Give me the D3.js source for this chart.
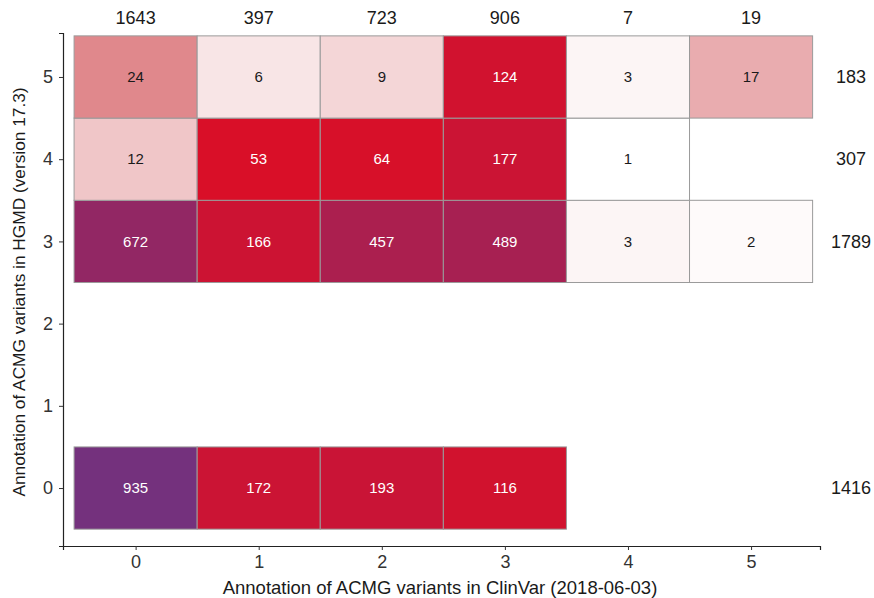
<!DOCTYPE html>
<html><head><meta charset="utf-8">
<script src="https://cdn.jsdelivr.net/npm/d3@7"></script>
<style>body{margin:0;background:#fff}svg{font-family:"Liberation Sans",Arial,sans-serif}</style>
</head><body>
<svg id="c" width="874" height="598"></svg>
<script>
// Data
const xCats = [0, 1, 2, 3, 4, 5];           // ClinVar annotation
const yCats = [0, 1, 2, 3, 4, 5];           // HGMD annotation
const row5 = [24, 6, 9, 124, 3, 17];
const row4 = [12, 53, 64, 177, 1, null];
const row3 = [672, 166, 457, 489, 3, 2];
const row0 = [935, 172, 193, 116, null, null];
const rowsByY = {5: row5, 4: row4, 3: row3, 0: row0};
const colTotals = [1643, 397, 723, 906, 7, 19];
const rowTotalY = [5, 4, 3, 0];
const rowTotals = [183, 307, 1789, 1416];
const xTitle = "Annotation of ACMG variants in ClinVar (2018-06-03)";
const yTitle = "Annotation of ACMG variants in HGMD (version 17.3)";

const cells = [];
Object.keys(rowsByY).forEach(y => rowsByY[y].forEach((v, i) => {
  if (v !== null) cells.push({x: xCats[i], y: +y, v});
}));

const svg = d3.select("#c");
const x = d3.scaleLinear().domain([-0.59, 5.56]).range([63, 820]);
const y = d3.scaleLinear().domain([-0.705, 5.535]).range([546, 33]);
const color = d3.scaleLinear().domain([1, 24, 50, 935])
  .range(["#ffffff", "#e0888c", "#d90f28", "#74317d"]).clamp(true);

const w = x(0.5) - x(-0.5), h = y(-0.5) - y(0.5);

svg.append("g").selectAll("rect").data(cells).join("rect")
  .attr("x", d => x(d.x - 0.5)).attr("y", d => y(d.y + 0.5))
  .attr("width", w).attr("height", h)
  .attr("fill", d => color(d.v)).attr("stroke", "#9a9a9a").attr("stroke-width", 1);

svg.append("g").selectAll("text").data(cells).join("text")
  .attr("x", d => x(d.x)).attr("y", d => y(d.y)).attr("dy", "0.35em")
  .attr("text-anchor", "middle").attr("font-size", 15)
  .attr("fill", d => d.v >= 50 ? "#ffffff" : "#1a1a1a").text(d => d.v);

// totals
svg.append("g").selectAll("text").data(colTotals).join("text")
  .attr("x", (d, i) => x(xCats[i])).attr("y", 18).attr("dy", "0.35em")
  .attr("text-anchor", "middle").attr("font-size", 18).attr("fill", "#1a1a1a").text(d => d);
svg.append("g").selectAll("text").data(rowTotals).join("text")
  .attr("x", 851).attr("y", (d, i) => y(rowTotalY[i])).attr("dy", "0.35em")
  .attr("text-anchor", "middle").attr("font-size", 18).attr("fill", "#1a1a1a").text(d => d);

// axes
const xAxis = svg.append("g").attr("transform", "translate(0,546)")
  .call(d3.axisBottom(x).tickValues(xCats).tickFormat(d3.format("d")).tickSizeOuter(0).tickSize(4).tickPadding(5));
const yAxis = svg.append("g").attr("transform", "translate(63,0)")
  .call(d3.axisLeft(y).tickValues(yCats).tickFormat(d3.format("d")).tickSizeOuter(0).tickSize(4).tickPadding(6));
[xAxis, yAxis].forEach(a => {
  a.select(".domain").attr("stroke", "#222").attr("stroke-width", 1.2);
  a.selectAll(".tick line").attr("stroke", "#333");
  a.selectAll(".tick text").attr("font-size", 18).attr("fill", "#333").attr("font-family", "Liberation Sans, Arial, sans-serif");
});

svg.append("text").attr("x", 440).attr("y", 588).attr("dy", "0.35em")
  .attr("text-anchor", "middle").attr("font-size", 18.5).attr("fill", "#1a1a1a").text(xTitle);
svg.append("text").attr("transform", "translate(19,292) rotate(-90)").attr("dy", "0.35em")
  .attr("text-anchor", "middle").attr("font-size", 17.3).attr("fill", "#1a1a1a").text(yTitle);
</script>
</body></html>
